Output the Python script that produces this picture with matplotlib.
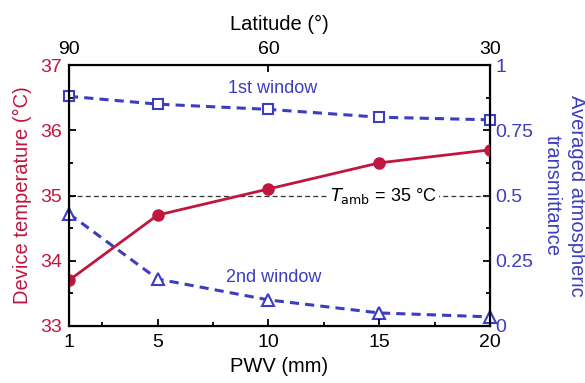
import matplotlib
matplotlib.use("Agg")
import matplotlib.pyplot as plt
from matplotlib.ticker import MultipleLocator, FixedLocator

plt.rcParams['font.family'] = ['Liberation Sans', 'DejaVu Sans']

pwv = [1, 5, 10, 15, 20]
temp = [33.7, 34.7, 35.1, 35.5, 35.7]
win1 = [0.88, 0.85, 0.83, 0.80, 0.79]
win2 = [0.43, 0.18, 0.10, 0.05, 0.035]
lat_pos = [1, 10, 20]
lat_labels = ['90', '60', '30']
t_amb = 35

red = '#c0163f'
blue = '#3d3dbf'

fig = plt.figure(figsize=(5.85, 3.83), dpi=100)
ax = fig.add_axes([69/585, 1-326/383, (490-69)/585, (326-65)/383])
ax.set_xlim(1, 20)
ax.set_ylim(33, 37)
ax2 = ax.twinx()
ax2.set_ylim(0, 1)

ax.axhline(t_amb, color='#333333', lw=0.9, ls=(0, (4, 2.5)), zorder=1)
ax.text(15.2, t_amb, r'$\mathit{T}_{\rm amb}$ = 35 °C', ha='center', va='center', fontsize=13,
        bbox=dict(facecolor='white', edgecolor='none', pad=1.5), zorder=2)

ax.plot(pwv, temp, color=red, lw=2, marker='o', ms=8, zorder=3)
ax2.plot(pwv, win1, color=blue, lw=2.2, ls=(0, (3, 2)), marker='s', ms=7.5,
         mfc='white', mec=blue, mew=1.5, clip_on=False)
ax2.plot(pwv, win2, color=blue, lw=2.2, ls=(0, (3, 2)), marker='^', ms=8.5,
         mfc='white', mec=blue, mew=1.5, clip_on=False)
ax.set_zorder(ax2.get_zorder() + 1)
ax.patch.set_visible(False)

ax2.text(10.2, 0.91, '1st window', color=blue, fontsize=13, ha='center', va='center')
ax2.text(10.25, 0.184, '2nd window', color=blue, fontsize=13, ha='center', va='center')

ax.xaxis.set_major_locator(FixedLocator(pwv))
ax.xaxis.set_minor_locator(FixedLocator([2.5, 7.5, 12.5, 17.5]))
ax.yaxis.set_major_locator(MultipleLocator(1))
ax.yaxis.set_minor_locator(MultipleLocator(0.5))
ax2.yaxis.set_minor_locator(MultipleLocator(0.125))
ax2.set_yticks([0, 0.25, 0.5, 0.75, 1])
ax2.set_yticklabels(['0', '0.25', '0.5', '0.75', '1'])

for a in (ax, ax2):
    a.tick_params(which='both', direction='in', width=1.3)
    a.tick_params(which='major', length=5)
    a.tick_params(which='minor', length=3)
    for s in a.spines.values():
        s.set_linewidth(1.5)

ax.tick_params(axis='x', labelsize=14, pad=6)
ax.tick_params(axis='y', labelsize=14, labelcolor=red, pad=5)
ax2.tick_params(axis='y', labelsize=14, labelcolor=blue, pad=4)

ax3 = ax.twiny()
ax3.set_xlim(1, 20)
ax3.set_xticks(lat_pos)
ax3.set_xticklabels(lat_labels)
ax3.tick_params(direction='in', length=5, width=1.3, labelsize=14, pad=5)
ax3.set_xlabel('Latitude (°)', fontsize=14.5, labelpad=8)

ax.set_xlabel('PWV (mm)', fontsize=14.5, labelpad=4)
ax.set_ylabel('Device temperature (°C)', fontsize=14.5, color=red, labelpad=6)
ax2.set_ylabel('Averaged atmospheric\ntransmittance', fontsize=14.5, color=blue,
               rotation=270, labelpad=38, linespacing=1.4)

fig.savefig('out.png', dpi=100)
